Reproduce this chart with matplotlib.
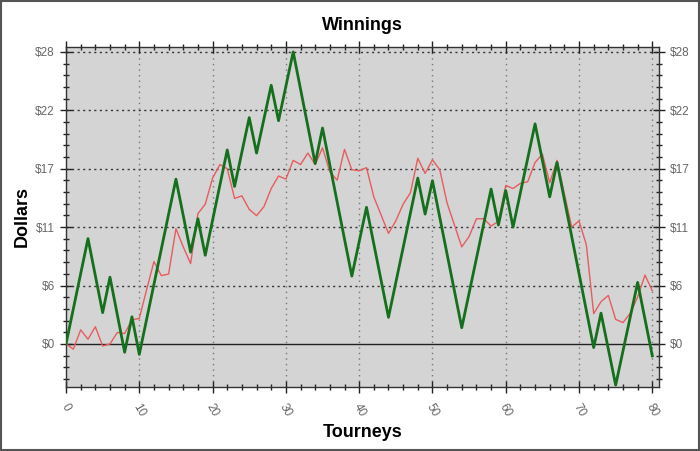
import matplotlib
matplotlib.use('Agg')
import matplotlib.pyplot as plt
from matplotlib.patches import Rectangle
from matplotlib.ticker import MultipleLocator, FuncFormatter
import numpy as np

plt.rcParams['font.family'] = ['Liberation Sans', 'DejaVu Sans']

# data
tourneys = list(range(81))
red_vals = [0, -0.5, 1.35, 0.45, 1.65, -0.2, 0.0, 1.1, 1.0, 2.3,
            2.45, 5.2, 7.9, 6.55, 6.7, 11.05, 9.3, 7.7, 12.5, 13.4,
            15.9, 17.2, 16.8, 13.95, 14.2, 12.9, 12.3, 13.15, 14.9, 16.1,
            15.8, 17.6, 17.2, 18.3, 17.2, 18.8, 16.5, 15.7, 18.65, 16.7,
            16.6, 16.9, 14.1, 12.35, 10.6, 11.8, 13.4, 14.5, 17.8, 16.35,
            17.65, 16.7, 13.5, 11.4, 9.3, 10.3, 12.0, 12.0, 11.3, 11.75,
            15.2, 14.9, 15.4, 15.55, 17.4, 18.2, 15.45, 17.6, 14.4, 11.2,
            11.8, 9.5, 2.9, 4.05, 4.65, 2.35, 2.05, 2.95, 4.5, 6.6,
            5.1]

green_x = [0, 3, 5, 6, 8, 9, 10, 15, 17, 18, 19, 22, 23, 25, 26, 28, 29, 31, 34, 35,
           39, 41, 44, 48, 49, 50, 54, 58, 59, 60, 61, 64, 66, 67, 72, 73, 75, 78, 80]
green_y = [0, 10.1, 3.0, 6.4, -0.8, 2.6, -1.0, 15.8, 8.8, 12.0, 8.5, 18.6, 15.1, 21.7, 18.3,
           24.8, 21.4, 28.0, 17.3, 20.7, 6.5, 13.1, 2.55, 15.9, 12.45, 15.65, 1.55, 14.85,
           11.4, 14.7, 11.2, 21.1, 14.1, 17.4, -0.35, 2.95, -3.95, 5.9, -1.15]

y_ticks = [0, 5.6, 11.2, 16.8, 22.4, 28.0]

fig = plt.figure(figsize=(7, 4.51), dpi=100)
ax = fig.add_axes([0.0943, 0.1426, 0.847, 0.7539])
ax.set_facecolor('#d4d4d4')

ax.plot(tourneys, red_vals, color='#e85c5e', lw=1.0, zorder=3)
ax.plot(green_x, green_y, color='#14701c', lw=2.0, zorder=4)
ax.axhline(0, color='#222222', lw=1.0, zorder=2)

ax.set_xlim(0, 80.9)
ax.set_ylim(-4.1, 28.5)

ax.set_xticks(range(0, 81, 10))
ax.xaxis.set_minor_locator(MultipleLocator(2))
ax.set_yticks(y_ticks)
ax.set_yticks(np.arange(-3.36, 28.5, 1.12), minor=True)
ax.yaxis.set_major_formatter(FuncFormatter(lambda v, p: '$%.0f' % v))

for v in y_ticks[1:]:
    ax.axhline(v, color='#333333', lw=1.0, ls=(0, (1.5, 2.5)), zorder=1)
for v in range(10, 81, 10):
    ax.axvline(v, color='#777777', lw=1.0, ls=(0, (1, 3)), zorder=1)

ax.tick_params(axis='both', which='major', direction='inout', length=9, width=1,
               color='#222222', labelcolor='#666666', labelsize=8.5,
               top=True, right=True, labelright=True)
ax.tick_params(axis='both', which='minor', direction='inout', length=5, width=1,
               color='#222222', top=True, right=True)
ax.tick_params(axis='x', which='major', pad=6)
for lab in ax.get_xticklabels():
    lab.set_rotation(-60)
    lab.set_ha('center')

for s in ax.spines.values():
    s.set_color('#333333')
    s.set_linewidth(1.0)

ax.set_title('Winnings', fontsize=13, fontweight='bold', pad=12)
ax.set_xlabel('Tourneys', fontsize=13, fontweight='bold')
ax.xaxis.set_label_coords(0.5, -0.11)
ax.set_ylabel('Dollars', fontsize=13, fontweight='bold')
ax.yaxis.set_label_coords(-0.06, 0.5)

fig.patches.append(Rectangle((0.001, 0.002), 0.997, 0.996, transform=fig.transFigure,
                             fill=False, edgecolor='#555555', lw=1.5))

fig.savefig('out.png', dpi=100)
